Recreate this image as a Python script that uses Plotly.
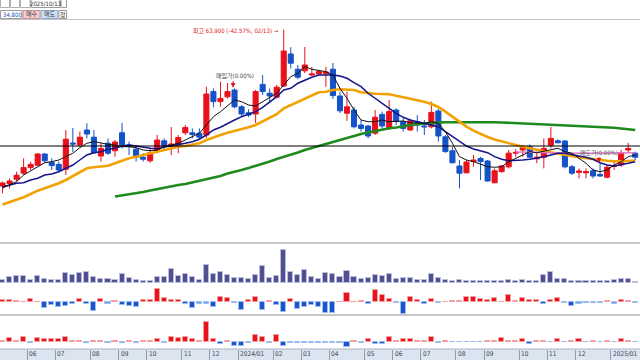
import plotly.graph_objects as go
import pandas as pd

# ---------------- data ----------------
weeks = pd.date_range("2023-05-08", periods=91, freq="7D")

opens = [24800, 25400, 26500, 28000, 29400, 30000, 32800, 30700, 30200, 29000,
         35550, 35050, 38800, 37000, 32300, 35500, 33600, 38100, 35050, 34000,
         32000, 31100, 33600, 36100, 34800, 34800, 38100, 38100, 38000, 37550,
         48400, 45900, 47100, 48800, 44600, 43100, 42800, 50200, 48000, 47000,
         49800, 57800, 54000, 53600, 52550, 52800, 52900, 54000, 47300, 43000,
         43800, 40050, 39800, 38000, 42700, 39400, 43800, 40900, 38800, 40900,
         39800, 39600, 43550, 37100, 33600, 29800, 28100, 30900, 31700, 31050,
         25600, 28400, 29600, 33000, 33800, 34600, 31600, 32000, 34900, 36100,
         36050, 29600, 28200, 28100, 28600, 27700, 27000, 29700, 30050, 33800,
         33000]
highs = [25900, 26700, 28400, 31700, 30900, 33000, 33000, 31700, 30900, 38800,
         39300, 38400, 40500, 38800, 35500, 36700, 36300, 40600, 35900, 35050,
         33000, 34200, 37550, 36700, 39550, 37550, 40050, 39200, 39200, 49600,
         49200, 50900, 50500, 49200, 45050, 44000, 48800, 52550, 49200, 50050,
         63900, 59500, 55050, 59550, 54600, 53800, 54600, 55550, 48400, 48400,
         44600, 41300, 40050, 43800, 43400, 46300, 44200, 41700, 41500, 42550,
         41300, 45900, 44050, 37550, 34500, 31300, 31300, 32550, 32100, 31300,
         29200, 30050, 33800, 34000, 35050, 35200, 33400, 36700, 39600, 36500,
         36300, 30050, 29200, 29200, 29200, 30500, 30050, 30800, 33800, 35600,
         33400]
lows = [23000, 24200, 25900, 27550, 28800, 29800, 30500, 28800, 28400, 27550,
        33300, 34600, 36700, 33000, 30900, 32550, 32100, 34200, 32550, 30900,
        30900, 30600, 33000, 33800, 32550, 33000, 37550, 36700, 36300, 36800,
        44500, 44600, 46700, 44200, 42000, 42000, 40550, 47550, 45500, 46700,
        49600, 54200, 51500, 53050, 52300, 52550, 49600, 46550, 43000, 41100,
        39200, 38400, 36700, 37550, 39200, 38800, 40050, 38400, 38600, 38400,
        37550, 39200, 35900, 33100, 30500, 24200, 28000, 29600, 26300, 25900,
        25500, 28100, 29200, 32100, 32100, 31700, 30500, 29200, 34200, 35500,
        29200, 27550, 26700, 26700, 26700, 27100, 26700, 28800, 29600, 33000,
        31300]
closes = [25550, 26050, 27500, 29400, 30200, 32800, 31100, 29900, 28800, 36500,
          35300, 37000, 37800, 33100, 34200, 33000, 35800, 35050, 34700, 32000,
          31500, 33100, 36300, 34700, 35300, 36900, 39400, 37700, 37000, 47800,
          45900, 46700, 48400, 44600, 42800, 42550, 48400, 48400, 47300, 49500,
          58550, 55500, 52000, 55050, 52800, 53400, 53300, 47400, 43600, 44600,
          39600, 39200, 37300, 42000, 39800, 43400, 40900, 39200, 41100, 40050,
          39600, 43200, 37300, 33400, 30600, 28000, 30800, 31300, 30900, 26050,
          28600, 29800, 33000, 33200, 34400, 32000, 32000, 34200, 36700, 35600,
          29600, 28000, 28550, 28400, 27300, 27300, 29500, 29900, 33100, 34200,
          32000]

ma5 = [24300, 25050, 25900, 27550, 28550, 29480, 30630, 30880, 31300, 32130,
       32980, 34380, 35480, 35880, 35480, 35230, 35050, 34630, 34630, 34380,
       33800, 33630, 33800, 34680, 35050, 35480, 36300, 37130, 37980, 40050,
       42130, 43380, 44800, 46300, 45880, 45050, 44800, 45880, 46980, 47980,
       50050, 52130, 52980, 54630, 53980, 53630, 53380, 52550, 49230, 46730,
       43800, 41300, 40880, 40880, 41300, 40880, 40880, 41050, 40630, 40480,
       40480, 40880, 40480, 38380, 35480, 32130, 31300, 30880, 30300, 29630,
       29480, 29630, 30880, 31730, 32550, 33380, 33130, 33550, 33980, 34230,
       33380, 32980, 31730, 30480, 28800, 28380, 28800, 30050, 30880, 32130,
       32550]
ma10 = [24550, 25050, 25480, 25630, 26300, 26730, 27550, 27800, 28380, 29230,
        30050, 31300, 32550, 33130, 33380, 33980, 34230, 34800, 35050, 34800,
        34480, 34230, 34050, 34550, 34800, 35050, 35480, 35880, 36480, 37550,
        38800, 39480, 40480, 41300, 42130, 42730, 43380, 44480, 45880, 47130,
        48800, 49230, 50480, 51300, 51980, 52550, 52550, 52550, 52300, 51730,
        50630, 49630, 47980, 46730, 45480, 44230, 42980, 41980, 41300, 40880,
        40480, 40050, 39630, 38380, 37130, 35880, 34800, 34050, 33550, 33130,
        32130, 31480, 31130, 31130, 31300, 31480, 31730, 32130, 32550, 32980,
        32980, 32550, 32300, 31980, 31480, 30630, 30050, 29800, 30050, 30480,
        30880]
ma20 = [20180, 20800, 21300, 21980, 22800, 23630, 24230, 24800, 25480, 26300,
        27300, 28380, 29230, 29480, 29630, 29880, 30480, 31130, 31730, 32130,
        32550, 32980, 33380, 33930, 34300, 34630, 34800, 35050, 35480, 36300,
        36980, 37550, 38130, 38550, 38980, 39480, 40050, 40880, 41730, 42730,
        44230, 45050, 45880, 46730, 47550, 48230, 48380, 48800, 48980, 48980,
        48800, 48230, 47980, 47880, 47800, 47730, 47380, 46980, 46680, 46300,
        45880, 45300, 44550, 43380, 42130, 40880, 39630, 38630, 37800, 37050,
        36430, 35930, 35480, 35050, 34630, 34230, 33800, 33500, 33230, 32880,
        32550, 32250, 31980, 31730, 31480, 31300, 31100, 30980, 30930, 31050,
        31180]
ma60 = [22180, 22430, 22680, 23050, 23300, 23680, 24050, 24300, 24680, 25050,
        25300, 25680, 26050, 26430, 26800, 27300, 27930, 28300, 28800, 29300,
        29800, 30300, 30930, 31550, 32050, 32550, 33180, 33800, 34300, 34800,
        35430, 35930, 36480, 36930, 37300, 37800, 38180, 38550, 38980, 39230,
        39430, 39800, 40050, 40230, 40430, 40550, 40680, 40730, 40750, 40800,
        40800, 40800, 40850, 40800, 40730, 40680, 40600, 40550, 40480, 40430,
        40380, 40300, 40230, 40100, 40000, 39900, 39800, 39730, 39650, 39580,
        39500, 39350, 39180, 39000, 38800]
sell_line = [33300, 33250, 33200, 33150, 33100, 33100, 33050, 33050, 33000,
             33000, 33000, 33000, 33000, 33050, 33050, 33100, 33100, 33100]

volume = [33000, 57000, 67000, 67000, 33000, 67000, 37000, 27000, 27000, 97000,
          77000, 103000, 107000, 57000, 37000, 43000, 33000, 93000, 47000, 27000,
          20000, 20000, 57000, 63000, 137000, 67000, 93000, 57000, 27000, 177000,
          93000, 107000, 77000, 47000, 53000, 37000, 77000, 173000, 50000, 67000,
          333000, 107000, 77000, 133000, 57000, 43000, 100000, 87000, 60000, 123000,
          60000, 37000, 47000, 77000, 67000, 87000, 37000, 47000, 47000, 33000,
          33000, 87000, 47000, 33000, 23000, 33000, 23000, 23000, 20000, 20000,
          20000, 17000, 27000, 20000, 27000, 23000, 20000, 83000, 107000, 37000,
          37000, 20000, 23000, 20000, 20000, 17000, 17000, 27000, 37000, 43000,
          10000]
osc1 = [23, 23, 17, 7, 33, 7, -53, -27, -43, -33,
        -17, 33, -17, -83, 33, -13, 13, -23, -33, -43,
        23, 23, 133, 43, 23, 23, -20, -60, -13, -13,
        -43, 57, 40, -7, -73, 23, 57, -80, 17, -30,
        -93, 30, -63, -43, -30, -50, -110, -103, 7, 97,
        7, 13, -17, 123, 77, 33, -10, -117, 50, 23,
        -20, 33, -3, 3, 10, 13, 50, 57, 30, 23,
        40, 7, 73, 13, 40, 20, 23, -20, 23, 43,
        -10, -40, -13, -3, -7, -7, 17, -13, 23, 17,
        -3]
osc2 = [10, 32, 10, 42, -10, 32, 25, 25, 25, 45,
        10, 10, -15, 10, 10, -10, 10, -15, 10, -15,
        10, 10, 25, -15, 45, 32, 42, 25, 10, 200,
        25, -20, 10, -40, -40, -10, 65, 50, -10, 65,
        -40, -15, -15, -15, -10, -10, -10, -10, -10, -55,
        10, -10, 25, -20, -20, 50, 10, 25, 25, 10,
        10, 50, -10, 10, -5, -5, -5, -5, -5, 10,
        10, 35, 10, 10, 25, -20, 10, 10, -5, 25,
        -5, 10, 25, -5, 10, -5, 10, -5, 25, 10,
        -5]

month_labels = ["06", "07", "08", "09", "10", "11", "12", "2024/01", "02", "03",
                "04", "05", "06", "07", "08", "09", "10", "11", "12", "2025/01"]
ref_price = 34800
high_text = "최고 63,900 (-42.57%, 02/13) →"
buy_text = "매입가(0.00%)"
sell_text = "매도가(0.00%)"
toolbar_date = "2025/10/13"
toolbar_price = "34,800"

# ---------------- helpers ----------------
W, H = 640, 360
def px(v):
    return v / W
def py(v):
    return 1 - v / H

n = len(weeks)
xs = list(range(n))
KFONT = "DejaVu Sans Condensed, Noto Sans CJK KR, sans-serif"

fig = go.Figure()

def ma_trace(vals, color, width):
    start = n - len(vals)
    return go.Scatter(x=xs[start:], y=vals, mode="lines",
                      line=dict(color=color, width=width),
                      hoverinfo="skip", yaxis="y")

fig.add_trace(ma_trace(ma60, "#1e8a1e", 2.6))
fig.add_trace(ma_trace(ma20, "#f2a200", 2.6))
fig.add_trace(ma_trace(sell_line, "#e078c8", 1.4))
fig.add_trace(ma_trace(ma10, "#14148c", 1.5))
fig.add_trace(ma_trace(ma5, "#111111", 1.0))

fig.add_trace(go.Candlestick(
    x=xs, open=opens, high=highs, low=lows, close=closes,
    increasing=dict(line=dict(color="#e8101a", width=1), fillcolor="#e8101a"),
    decreasing=dict(line=dict(color="#1452c8", width=1), fillcolor="#1452c8"),
    whiskerwidth=0, yaxis="y", hoverinfo="skip"))

fig.add_trace(go.Bar(x=xs, y=volume, width=0.72, yaxis="y2",
                     marker=dict(color="#505090", line=dict(color="#bcbcdc", width=1)),
                     hoverinfo="skip"))

def osc_colors(vals, thr):
    cols, lines = [], []
    for v in vals:
        if v >= 0:
            cols.append("#e8141c" if v > thr else "#f07878")
            lines.append("#f4a0a0")
        else:
            cols.append("#1a55cc" if -v > thr else "#7aa4ea")
            lines.append("#9cbcf0")
    return cols, lines

c1, l1 = osc_colors(osc1, 13)
fig.add_trace(go.Bar(x=xs, y=osc1, width=0.72, yaxis="y3",
                     marker=dict(color=c1, line=dict(color=l1, width=1)),
                     hoverinfo="skip"))
c2, l2 = osc_colors(osc2, 12)
fig.add_trace(go.Bar(x=xs, y=osc2, width=0.72, yaxis="y4",
                     marker=dict(color=c2, line=dict(color=l2, width=1)),
                     hoverinfo="skip"))

tick_pos = [i - 0.5 for i in range(1, n) if weeks[i].month != weeks[i - 1].month]
tick_pos = tick_pos[:len(month_labels)]

x_range = [-0.36, 90.68]
hidden = dict(visible=False, showgrid=False, zeroline=False, automargin=False)
fig.update_layout(
    width=W, height=H, margin=dict(l=0, r=0, t=0, b=0, pad=0, autoexpand=False),
    paper_bgcolor="white", plot_bgcolor="white",
    showlegend=False, bargap=0, boxgap=0.1, boxgroupgap=0.2,
    xaxis=dict(range=x_range, anchor="y4", showgrid=False, zeroline=False,
               showline=False, ticks="outside", ticklen=11, tickwidth=1,
               tickcolor="#8c9bb0", tickvals=tick_pos, showticklabels=False,
               rangeslider=dict(visible=False), fixedrange=True, automargin=False),
    yaxis=dict(domain=[py(243), py(20)], range=[10550, 66300], **hidden),
    yaxis2=dict(domain=[py(285), py(243)], range=[-20000, 400000], **hidden),
    yaxis3=dict(domain=[py(315), py(285)], range=[-127, 173], **hidden),
    yaxis4=dict(domain=[py(349), py(315)], range=[-75, 265], **hidden),
)

shapes = []
shapes.append(dict(type="rect", xref="paper", yref="paper", x0=0, x1=1,
                   y0=0, y1=py(349), fillcolor="#dce5ef", line=dict(width=0), layer="below"))
shapes.append(dict(type="line", xref="paper", yref="paper", x0=0, x1=1,
                   y0=py(349), y1=py(349), line=dict(color="#a8b4c4", width=1)))
for yy in (243, 315):
    shapes.append(dict(type="line", xref="paper", yref="paper", x0=0, x1=1,
                       y0=py(yy), y1=py(yy), line=dict(color="#b4b4b4", width=1.5)))
shapes.append(dict(type="line", xref="paper", yref="paper", x0=0, x1=1,
                   y0=py(19.5), y1=py(19.5), line=dict(color="#c4c4c4", width=1)))
shapes.append(dict(type="line", xref="paper", yref="y", x0=0, x1=1,
                   y0=ref_price, y1=ref_price, line=dict(color="#000000", width=1.2)))

def box(x0, x1, y0, y1, fill="white", line="#9a9a9a"):
    shapes.append(dict(type="rect", xref="paper", yref="paper",
                       x0=px(x0), x1=px(x1), y0=py(y1), y1=py(y0),
                       fillcolor=fill, line=dict(color=line, width=1)))
box(0.5, 9.5, -2, 7.5, line="#b0b0b0")
box(10.5, 19.5, -2, 7.5, line="#b0b0b0")
box(20.5, 30, -2, 7.5, line="#b0b0b0")
box(31, 60, -2, 7.5)
box(61, 66.5, -2, 7.5)
box(0.5, 22, 10.5, 18.5)
box(23, 40, 10.5, 18.5, fill="#f6cccc", line="#c89090")
box(41, 58, 10.5, 18.5, fill="#cfe0f6", line="#8ca8c8")
box(59, 66.5, 10.5, 18.5)
fig.update_layout(shapes=shapes)

ann = []
def txt(x, y, s, color="#333333", size=7, xanchor="center", xref="paper", yref="paper"):
    ann.append(dict(x=x, y=y, xref=xref, yref=yref, text=s, showarrow=False,
                    xanchor=xanchor, yanchor="middle", borderpad=0,
                    font=dict(family=KFONT, size=size, color=color)))

txt(px(45.5), py(3.5), toolbar_date, size=6)
txt(px(1.5), py(14.5), toolbar_price, color="#2050c0", size=6, xanchor="left")
txt(px(31.5), py(14.5), "매수", size=6)
txt(px(49.5), py(14.5), "매도", size=6)
txt(px(62.8), py(14.5), "정", size=6)

for tp, lab in zip(tick_pos, month_labels):
    txt(tp + 0.15, py(354), lab, color="#3c4656", size=6.5, xanchor="left", xref="x")

hi_idx = highs.index(max(highs))
ann.append(dict(x=hi_idx - 0.55, y=max(highs) - 400, xref="x", yref="y",
                text=high_text, showarrow=False, xanchor="right", yanchor="middle",
                borderpad=0, font=dict(family=KFONT, size=6, color="#e01818")))
buy_idx = 33
ann.append(dict(x=buy_idx, y=highs[buy_idx] + 3100, xref="x", yref="y",
                text=buy_text, showarrow=False, xanchor="center", yanchor="middle",
                borderpad=0, font=dict(family=KFONT, size=6, color="#444444")))
ann.append(dict(x=buy_idx - 0.2, y=highs[buy_idx] + 150, xref="x", yref="y", text="",
                showarrow=True, ax=0, ay=-8, arrowhead=2, arrowsize=0.8,
                arrowwidth=1.2, arrowcolor="#e01818"))
sell_idx = 84.85
ann.append(dict(x=sell_idx, y=33050, xref="x", yref="y",
                text=sell_text, showarrow=False, xanchor="center", yanchor="middle",
                borderpad=0, font=dict(family=KFONT, size=6, color="#555555")))
ann.append(dict(x=sell_idx, y=30600, xref="x", yref="y", text="",
                showarrow=True, ax=0, ay=-7, arrowhead=2, arrowsize=0.8,
                arrowwidth=1.2, arrowcolor="#e01818"))
fig.update_layout(annotations=ann)

fig.write_html("out.html", config={"displayModeBar": False},
               post_script="document.body.style.margin='0';document.body.style.overflow='hidden';")
